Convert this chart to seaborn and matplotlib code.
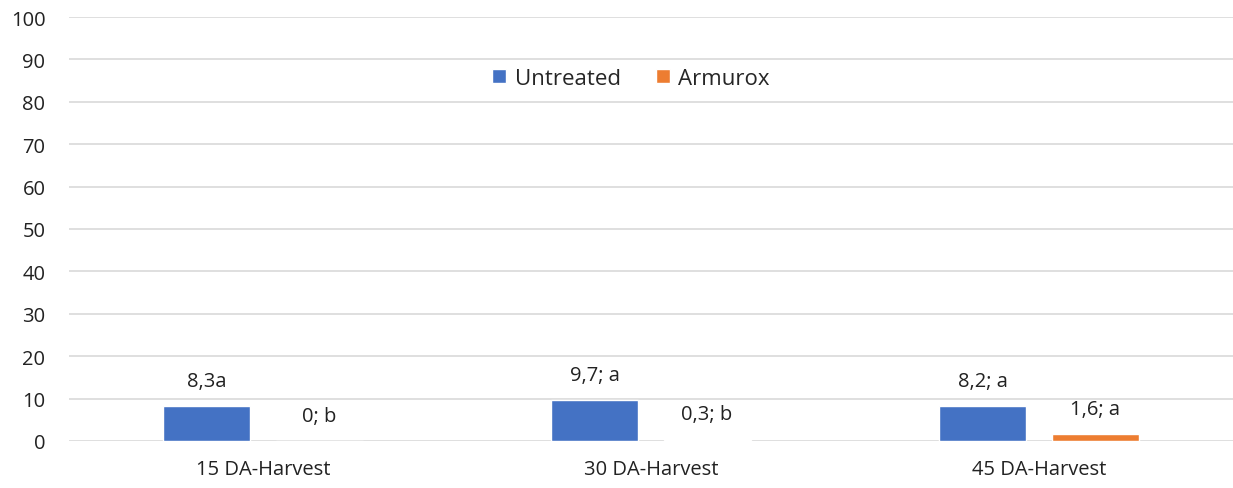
import matplotlib
matplotlib.use("Agg")
import matplotlib.pyplot as plt
import seaborn as sns
import pandas as pd

categories = ["15 DA-Harvest", "30 DA-Harvest", "45 DA-Harvest"]
series_names = ["Untreated", "Armurox"]
untreated = [8.3, 9.7, 8.2]
armurox = [0.0, 0.3, 1.6]
untreated_labels = ["8,3a", "9,7; a", "8,2; a"]
armurox_labels = ["0; b", "0,3; b", "1,6; a"]
y_ticks = list(range(0, 101, 10))

df = pd.DataFrame({
    "cat": categories * 2,
    "series": [series_names[0]] * 3 + [series_names[1]] * 3,
    "val": untreated + armurox,
})

sns.set_theme(style="white")
plt.rcParams["font.family"] = ["Open Sans", "DejaVu Sans"]

fig = plt.figure(figsize=(12.33, 4.89), dpi=100)
ax = fig.add_axes([69/1233, 1-442/489, (1233-69)/1233, (442-18)/489])

palette = {"Untreated": "#4472C4", "Armurox": "#ED7D31"}
sns.barplot(data=df, x="cat", y="val", hue="series", hue_order=series_names,
            order=categories, palette=palette, width=0.578, gap=0.225,
            saturation=1, ax=ax, zorder=3, legend=True)

ax.set_ylim(0, 100)
ax.set_yticks(y_ticks)
ax.set_xlim(-0.5, 2.5)
ax.yaxis.grid(True, color="#D9D9D9", linewidth=1.2, zorder=0)
ax.set_axisbelow(True)
for s in ax.spines.values():
    s.set_visible(False)
ax.set_xlabel("")
ax.set_ylabel("")
ax.tick_params(axis="y", labelsize=14.5, pad=17, length=0, colors="#222222")
ax.tick_params(axis="x", labelsize=14.5, pad=13, length=0, colors="#222222")

for cont, labs in zip(ax.containers, [untreated_labels, armurox_labels]):
    ax.bar_label(cont, labels=labs, padding=11, fontsize=14.5, color="#222222")

leg = ax.legend(loc="center", bbox_to_anchor=(0.483, 0.855), ncol=2, frameon=False,
                fontsize=16, handlelength=0.6, handleheight=0.6,
                handletextpad=0.4, columnspacing=1.6)

fig.savefig("out.png", dpi=100)
